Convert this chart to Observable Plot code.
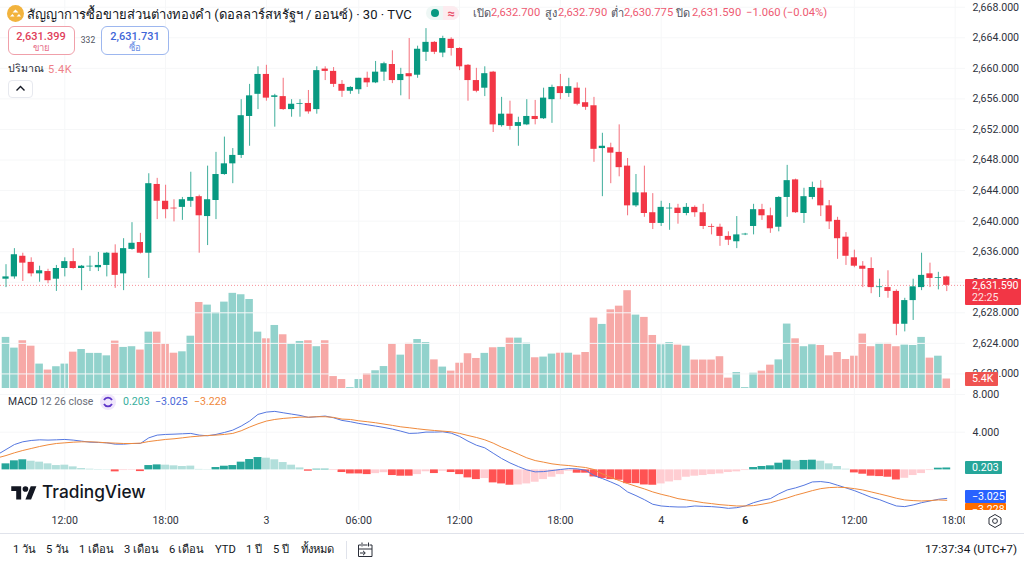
<!DOCTYPE html>
<html>
<head>
<meta charset="utf-8">
<script src="https://cdn.jsdelivr.net/npm/d3@7"></script>
<script src="https://cdn.jsdelivr.net/npm/@observablehq/plot@0.6"></script>
<style>
html,body{margin:0;padding:0;background:#fff}
#page{position:relative;width:1024px;height:565px;overflow:hidden;font-family:Roboto,"Noto Sans",sans-serif;color:#131722}
#page svg{position:absolute;left:0;top:0}
.t{position:absolute;white-space:nowrap;line-height:1;transform:translateY(-50%)}
.c{transform:translate(-50%,-50%)}
.box{position:absolute;box-sizing:border-box}
.layer{position:absolute;left:0}
</style>
</head>
<body>
<div id="page"></div>
<script>
const open = [2632.4,2632.7,2635.4,2634.6,2633.1,2633.4,2632.4,2633.8,2634.7,2633.8,
2634.0,2633.9,2634.2,2635.8,2633.1,2636.3,2637.2,2635.8,2644.8,2642.6,
2641.7,2641.8,2642.6,2643.2,2640.6,2642.7,2646.1,2647.5,2648.6,2653.7,
2656.6,2659.2,2656.2,2656.3,2654.6,2655.3,2655.4,2654.6,2659.9,2659.6,
2657.9,2657.0,2657.2,2658.7,2658.1,2659.5,2660.5,2658.4,2659.3,2659.1,
2662.1,2663.4,2662.0,2663.8,2662.6,2660.4,2658.4,2657.4,2659.5,2652.5,
2654.0,2652.4,2652.6,2653.7,2653.4,2655.9,2657.6,2656.7,2657.4,2655.5,
2655.1,2649.5,2649.6,2649.0,2647.2,2642.0,2643.7,2641.1,2639.7,2641.6,
2641.7,2641.0,2641.8,2641.1,2639.3,2639.2,2638.0,2637.3,2638.2,2639.3,
2641.5,2640.7,2639.2,2643.1,2645.4,2641.0,2643.1,2644.3,2642.0,2640.1,
2637.9,2635.2,2634.1,2633.8,2631.3,2631.3,2630.8,2626.5,2629.6,2631.3,
2633.1,2632.5,2632.7];
const high = [2634.3,2636.4,2635.8,2635.2,2634.1,2633.7,2634.2,2635.2,2636.4,2634.2,
2635.4,2635.9,2635.9,2636.9,2637.7,2639.8,2638.4,2646.2,2645.6,2644.7,
2642.8,2643.1,2646.4,2643.4,2647.2,2649.0,2651.0,2649.5,2655.9,2657.9,
2660.2,2660.4,2656.6,2658.7,2655.9,2655.9,2657.1,2660.2,2660.2,2660.1,
2658.4,2657.6,2658.7,2659.5,2660.9,2660.8,2662.3,2660.0,2663.9,2662.9,
2665.2,2663.5,2664.2,2664.0,2662.7,2660.5,2660.0,2660.2,2659.6,2656.2,
2655.7,2653.6,2655.9,2655.8,2657.4,2657.8,2659.2,2658.7,2658.1,2657.4,
2656.2,2651.5,2650.2,2652.6,2648.2,2646.1,2647.2,2643.6,2642.6,2642.3,
2642.2,2642.3,2642.0,2642.2,2639.6,2639.6,2638.6,2640.6,2638.4,2642.2,
2642.2,2641.7,2643.2,2647.3,2645.5,2644.3,2645.1,2645.3,2642.7,2640.5,
2638.5,2636.2,2634.7,2635.2,2632.4,2633.5,2631.0,2629.9,2632.4,2635.8,
2634.5,2633.3,2632.79];
const low = [2631.3,2632.4,2632.1,2632.7,2632.0,2631.8,2630.8,2632.7,2633.7,2630.9,
2633.4,2633.4,2632.7,2631.2,2630.9,2636.2,2635.7,2632.5,2640.2,2640.3,
2639.9,2640.1,2641.8,2635.8,2636.8,2640.2,2646.0,2644.9,2648.2,2649.8,
2654.6,2655.7,2652.3,2654.5,2653.6,2653.6,2654.0,2654.0,2658.4,2657.5,
2656.2,2656.6,2656.6,2657.5,2658.0,2658.3,2658.0,2656.4,2655.9,2658.7,
2660.9,2661.8,2661.4,2661.6,2659.7,2655.7,2656.8,2656.3,2651.6,2652.3,
2651.9,2649.8,2652.5,2652.6,2653.3,2652.8,2655.9,2656.2,2655.1,2654.5,
2647.7,2643.2,2644.9,2645.8,2640.7,2641.8,2640.5,2638.9,2639.3,2638.8,
2639.6,2640.7,2640.5,2638.9,2638.2,2636.7,2636.8,2636.4,2638.1,2638.2,
2640.1,2638.4,2638.6,2640.5,2641.0,2639.7,2642.8,2640.6,2638.9,2635.0,
2634.2,2633.9,2631.3,2630.5,2630.0,2629.9,2625.0,2625.5,2627.0,2630.9,
2631.3,2631.0,2630.775];
const close = [2632.7,2635.6,2634.5,2633.1,2633.5,2632.2,2633.8,2634.7,2633.8,2634.1,
2634.1,2634.2,2635.8,2632.9,2636.4,2637.1,2635.8,2644.9,2642.6,2641.5,
2641.6,2642.8,2643.1,2640.7,2642.8,2646.1,2647.5,2648.6,2653.8,2656.4,
2659.2,2656.1,2656.4,2654.6,2655.3,2655.4,2654.3,2659.7,2659.6,2657.9,
2657.0,2657.5,2658.7,2658.1,2659.5,2660.6,2658.4,2659.2,2658.9,2662.5,
2663.4,2662.1,2663.9,2662.6,2660.2,2658.4,2657.0,2659.3,2652.6,2654.0,
2652.4,2652.9,2653.7,2653.3,2656.1,2657.5,2656.7,2657.6,2655.3,2654.9,
2649.4,2649.8,2648.9,2647.0,2642.0,2643.7,2641.0,2639.7,2641.8,2641.7,
2641.0,2641.8,2641.1,2639.3,2639.2,2638.0,2637.5,2638.2,2638.3,2641.5,
2640.7,2639.0,2643.1,2645.3,2641.1,2643.2,2644.4,2642.0,2639.9,2637.7,
2635.4,2634.1,2633.7,2631.3,2631.4,2630.8,2626.5,2629.6,2631.4,2632.9,
2632.5,2632.6,2631.59];
// volume, thousands
const volume = [29.1,23.0,27.2,24.1,13.9,10.5,12.4,13.9,20.7,22.2,
20.0,20.0,18.6,27.0,23.4,23.8,21.9,32.1,32.1,25.3,
20.1,20.9,29.8,49.0,47.5,43.3,49.2,54.2,53.4,50.7,
32.1,28.3,35.9,30.6,25.3,26.8,27.2,23.8,27.2,6.8,
5.1,0.5,5.1,8.4,10.1,12.5,25.3,19.0,25.7,27.9,
26.2,16.3,12.2,9.9,14.4,19.8,17.1,20.0,23.2,23.4,
28.7,28.7,25.8,17.5,17.9,19.6,20.1,20.1,19.0,20.5,
40.1,36.5,44.8,46.9,55.7,41.8,40.5,30.2,24.9,26.2,
24.7,24.1,16.2,16.2,16.2,18.1,5.9,9.1,0.5,8.7,
9.9,13.3,16.3,36.7,28.3,23.8,24.9,24.5,18.6,20.5,
16.5,18.4,31.0,23.8,25.7,25.7,23.8,24.7,24.5,29.1,
17.3,18.4,5.4];
const macdHist = [.64,.96,1.07,.92,.82,.64,.46,.50,.32,.14,
.07,.04,.03,-.21,-.07,-.05,-.18,.46,.53,.50,
.43,.36,.40,.05,.03,.25,.39,.46,.82,1.10,
1.31,1.24,1.07,.78,.50,.21,-.14,.07,.07,-.07,
-.28,-.43,-.43,-.50,-.40,-.30,-.60,-.67,-.67,-.50,
-.20,-.39,-.14,-.28,-.50,-.85,-1.03,-.92,-1.38,-1.49,
-1.63,-1.60,-1.49,-1.31,-1.03,-.78,-.50,-.14,-.35,-.35,
-.75,-.92,-1.03,-1.10,-1.46,-1.46,-1.60,-1.63,-1.49,-1.28,
-1.14,-.78,-.67,-.60,-.50,-.43,-.28,-.21,-.07,.25,
.36,.43,.71,1.03,.92,1.00,1.03,.92,.64,.36,
.07,-.32,-.46,-.67,-.71,-.78,-1.07,-.89,-.60,-.39,
-.07,.18,.203];
// histogram shade per bar: G rising green, g fading green, R falling red, r fading red
const histShade = "GGGggggggggggRrrRGGggggggGGGGGGgggggRGGrRRRRrrRRRrrRrRRRRrRRRrrrrrrrRRRRRRRRRRrrrrrrrrrrrGGGGGgGGggggRRRRRRrrrrGG".split("");
// starts one bar before the first candle
const macdLine = [1.63,2.16,2.69,2.98,3.12,3.19,3.16,3.19,3.23,3.16,3.05,2.94,2.91,2.87,2.73,2.73,2.80,2.80,3.40,3.69,3.76,3.79,3.83,3.87,3.69,3.62,3.76,3.97,4.22,4.65,5.18,5.89,6.13,6.21,6.06,5.92,5.78,5.57,5.64,5.71,5.53,5.25,
5.11,4.93,4.79,4.65,4.50,4.33,4.11,3.87,3.90,4.01,4.01,4.04,3.90,3.55,3.05,2.62,2.34,1.77,1.21,.74,.35,0,-.21,-.18,-.07,.04,.14,.11,-.04,-.60,-.92,-1.28,-1.67,-2.34,-2.73,-3.16,-3.65,-3.83,-3.90,-3.94,
-3.94,-3.83,-3.87,-3.90,-3.97,-4.08,-4.01,-3.83,-3.48,-3.23,-3.05,-2.55,-2.13,-1.91,-1.63,-1.28,-1.24,-1.35,-1.63,-1.91,-2.20,-2.55,-2.91,-3.16,-3.51,-3.83,-3.90,-3.72,-3.48,-3.30,-3.12,-3.025];
const signalLine = [1.28,1.52,1.81,2.06,2.27,2.48,2.66,2.80,2.87,2.94,2.98,2.98,2.94,2.87,2.84,2.80,2.80,2.84,3.01,3.12,3.23,3.30,3.40,3.51,3.58,3.65,3.69,3.76,3.87,4.15,4.54,4.89,5.18,5.35,5.46,5.53,5.60,5.60,5.64,5.64,5.57,5.39,
5.35,5.21,5.11,5.00,4.86,4.72,4.57,4.47,4.36,4.26,4.18,4.11,4.04,3.87,3.65,3.44,3.19,2.84,2.41,2.06,1.67,1.28,.99,.82,.64,.53,.46,.35,.25,.04,-.43,-.78,-1.13,-1.45,-1.74,-2.02,-2.34,-2.59,-2.80,-3.05,
-3.19,-3.33,-3.48,-3.58,-3.69,-3.76,-3.83,-3.83,-3.79,-3.65,-3.48,-3.23,-2.98,-2.69,-2.45,-2.20,-1.99,-1.88,-1.84,-1.88,-1.99,-2.13,-2.34,-2.55,-2.77,-3.01,-3.19,-3.26,-3.30,-3.26,-3.19,-3.228];

const priceTicks = [2620,2624,2628,2632,2636,2640,2644,2648,2652,2656,2660,2664,2668];
const macdTicks = [4,8];
const timeBars = [7,19,31,42,54,66,78,101,113];
const timeLabels = ["12:00","18:00","3","06:00","12:00","18:00","4","12:00","18:00"];
const boldBars = [88];
const boldLabels = ["6"];
const lastPrice = 2631.59;

const GREEN="#089981", RED="#f23645";
const bars = open.map((o,i)=>({i,o,h:high[i],l:low[i],c:close[i],v:volume[i],up:close[i]>=o}));
const W=1024, PR=59, AF=10.6;
const xDomain=[-0.655,114.23];
const base={width:W,marginLeft:0,marginRight:PR,marginTop:0,
  x:{domain:xDomain,axis:null},style:{background:"transparent",overflow:"visible",fontFamily:"Roboto,'Noto Sans',sans-serif"}};
const num3=d3.format(",.3f");

// volume pane
const volPlot=Plot.plot({...base,height:390,marginBottom:2,y:{domain:[0,221],axis:null},marks:[
  Plot.rect(bars,{x1:d=>d.i-.45,x2:d=>d.i+.45,y1:0,y2:"v",fill:d=>d.up?"#92d2cc":"#f7a9a7"})
]});
// price pane
const pricePlot=Plot.plot({...base,height:390,marginBottom:0,y:{domain:[2617.83,2668.88],axis:null},clip:false,marks:[
  Plot.ruleY(priceTicks,{stroke:"#f6f7f8"}),
  Plot.ruleX(timeBars,{stroke:"#f6f7f8"}),
  Plot.ruleY([lastPrice],{stroke:RED,strokeOpacity:.55,strokeDasharray:"1,2"}),
  Plot.ruleX(bars,{x:"i",y1:"l",y2:"h",stroke:d=>d.up?"#3fae9b":"#f4707c",strokeWidth:1}),
  Plot.rect(bars,{x1:d=>d.i-.37,x2:d=>d.i+.37,y1:"o",y2:"c",fill:d=>d.up?GREEN:RED}),
  Plot.axisY(priceTicks,{anchor:"right",label:null,tickSize:0,tickPadding:7,textAnchor:"start",tickFormat:num3,fontSize:AF,fill:"#2f3340"})
]});
// MACD pane with time axis
const histFill={G:"#26a69a",g:"#b2dfdb",R:"#ff5252",r:"#ffcdd2"};
const macdPlot=Plot.plot({...base,height:146,marginBottom:25,y:{domain:[-4.31,8.53],axis:null},marks:[
  Plot.ruleY([4,8],{stroke:"#f6f7f8"}),
  Plot.ruleX(timeBars,{stroke:"#f6f7f8"}),
  Plot.rect(macdHist,{x1:(d,i)=>i-.47,x2:(d,i)=>i+.47,y1:0,y2:d=>d,fill:(d,i)=>histFill[histShade[i]]}),
  Plot.line(macdLine,{x:(d,i)=>i-1,y:d=>d,stroke:"#5577e0",strokeWidth:1}),
  Plot.line(signalLine,{x:(d,i)=>i-1,y:d=>d,stroke:"#f08a3c",strokeWidth:1}),
  Plot.axisY(macdTicks,{anchor:"right",label:null,tickSize:0,tickPadding:7,textAnchor:"start",tickFormat:num3,fontSize:AF,fill:"#2f3340"}),
  Plot.axisX(timeBars,{anchor:"bottom",label:null,tickSize:0,tickPadding:6,tickFormat:(d,i)=>timeLabels[i],fontSize:AF,fill:"#2f3340"}),
  Plot.axisX(boldBars,{anchor:"bottom",label:null,tickSize:0,tickPadding:6,tickFormat:(d,i)=>boldLabels[i],fontSize:AF,fontWeight:700,fill:"#131722"})
]});

const page=document.getElementById("page");
page.append(volPlot,pricePlot);
const macdWrap=document.createElement("div");
macdWrap.className="layer";
macdWrap.style.cssText="top:389px;width:1024px;height:146px";
macdWrap.append(macdPlot);
page.append(macdWrap);

function text(x,y,str,style="",center=false){
  const e=document.createElement("div");
  e.className="t"+(center?" c":"");
  e.style.cssText=`left:${x}px;top:${y}px;${style}`;
  e.textContent=str;page.append(e);return e;
}
function box(x,y,w,h,style){
  const e=document.createElement("div");
  e.className="box";e.style.cssText=`left:${x}px;top:${y}px;width:${w}px;height:${h}px;${style}`;
  page.append(e);return e;
}
function icon(x,y,w,h,vb,inner){
  const e=document.createElement("div");
  e.className="box";e.style.cssText=`left:${x}px;top:${y}px;width:${w}px;height:${h}px`;
  e.innerHTML=`<svg width="${w}" height="${h}" viewBox="${vb}">${inner}</svg>`;
  page.append(e);
}
const PINK="#ee5a72";
// header
icon(7,5,17,17,"0 0 17 17",`<circle cx="8.5" cy="8.5" r="8.5" fill="#f2b33d"/><path d="M5.5 7.5h6L8.5 4.5zM3 11.5h4.5l-2-2.5zM9.5 11.5H14l-2-2.5z" fill="#fff"/>`);
text(27,14,"สัญญาการซื้อขายส่วนต่างทองคำ (ดอลลาร์สหรัฐฯ / ออนซ์) · 30 · TVC","font-size:13px;color:#131722");
box(426,6,33,14,"background:#eef7f5;border-radius:7px");
box(443,6,16,14,"background:#fdebef;border-radius:0 7px 7px 0");
box(431,9,8,8,"background:#089981;border-radius:50%");
text(451,13,"≈","font-size:13px;color:#e8506a;font-weight:700",true);
const hdrV="font-size:11.2px;color:"+PINK;const hdrL="font-size:11px;color:#50535e";
text(473,13,"เปิด",hdrL);text(491,13,"2,632.700",hdrV);
text(545,13,"สูง",hdrL);text(558,13,"2,632.790",hdrV);
text(611,13,"ต่ำ",hdrL);text(624,13,"2,630.775",hdrV);
text(676,13,"ปิด",hdrL);text(692,13,"2,631.590",hdrV);
text(746,13,"−1.060",hdrV);text(783,13,"(−0.04%)",hdrV);
// buy/sell
box(8,26,67,29,"border:1px solid #f0a0aa;border-radius:6px;background:#fff");
text(41,36,"2,631.399","font-size:11px;font-weight:500;color:#e0405a",true);
text(41,48,"ขาย","font-size:9.5px;color:#e7708a",true);
text(88,40,"332","font-size:8.5px;color:#50535e",true);
box(101,26,68,29,"border:1px solid #9db7ef;border-radius:6px;background:#fff");
text(135,36,"2,631.731","font-size:11px;font-weight:500;color:#3f66d8",true);
text(135,48,"ซื้อ","font-size:9.5px;color:#6b8fe5",true);
text(8,69,"ปริมาณ","font-size:10.6px;color:#2a2e39");
text(48,69,"5.4K","font-size:11px;letter-spacing:.5px;color:#ee7f88");
box(8,80,25,18,"border:1px solid #e7e9ef;border-radius:4px;background:#fff");
icon(15,85,11,7,"0 0 11 7",`<path d="M1.5 5.5 5.5 1.5 9.5 5.5" fill="none" stroke="#131722" stroke-width="1.4"/>`);
// current price / volume tags
box(965,279,56,26,"background:#f23645;border-radius:1px");
text(972,286,"2,631.590","font-size:10.6px;color:#fff");
text(972,298,"22:25","font-size:10.6px;color:#ffe3e3");
box(965,372,33,14,"background:#ef5350;border-radius:1px");
text(972,379,"5.4K","font-size:10.6px;color:#fff");
// MACD legend
text(8,402,"MACD","font-size:10.4px;color:#2a2e39");
text(40,402,"12 26 close","font-size:10.4px;color:#6a6d78");
box(100,394,16,16,"background:#efe6fb;border-radius:50%");
icon(102,396,12,12,"0 0 12 12",`<path d="M10 4A4.6 4.6 0 0 0 2 4M2 8a4.6 4.6 0 0 0 8 0" fill="none" stroke="#5e35c9" stroke-width="1.8"/>`);
text(123,402,"0.203","font-size:10.6px;color:#37ae9d");
text(155,402,"−3.025","font-size:10.6px;color:#4a68d8");
text(194,402,"−3.228","font-size:10.6px;color:#f0883c");
// MACD tags, clipped at pane bottom
const clip=box(965,440,59,70,"overflow:hidden");
function tag(y,w,h,bg,str){
  const b=document.createElement("div");
  b.style.cssText=`position:absolute;left:0;top:${y-440}px;width:${w}px;height:${h}px;background:${bg};color:#fff;font-size:10.6px;line-height:${h}px;padding-left:7px;box-sizing:border-box;border-radius:1px`;
  b.textContent=str;clip.append(b);
}
tag(461,37,13,"#26a69a","0.203");
tag(490,41,13,"#2962ff","−3.025");
tag(503,41,13,"#ff6d00","−3.228");
// time-axis right end
box(965,511,59,22,"background:#fff");
icon(987,513,16,16,"0 0 16 16",`<path d="M8 1.5 14 5v6l-6 3.5L2 11V5z" fill="none" stroke="#2a2e39" stroke-width="1"/><circle cx="8" cy="8" r="2.4" fill="none" stroke="#2a2e39" stroke-width="1"/>`);
// watermark
icon(11,484,26,17,"0 0 36 24",`<g fill="#131722"><path d="M14 22H7V10H0V3h14zM28 22h-8l7.5-19h8z"/><circle cx="20" cy="7" r="4"/></g>`);
text(42,492,"TradingView","font-size:17.3px;font-weight:500;color:#131722;font-family:Inter,Roboto,sans-serif");
// bottom toolbar
box(0,533,1024,1,"background:#e0e3eb");
const rng="font-size:11.2px;color:#131722";
[[13,"1 วัน"],[46,"5 วัน"],[79,"1 เดือน"],[124,"3 เดือน"],[169,"6 เดือน"],[215,"YTD"],[246,"1 ปี"],[273,"5 ปี"],[301,"ทั้งหมด"]].forEach(([x,s])=>text(x,550,s,rng));
box(346,541,1,18,"background:#e0e3eb");
icon(357,541,17,17,"0 0 17 17",`<path d="M4 4H1.5v11.5H15V4h-2.5M6 4h4.5M5 1.5v4M11.5 1.5v4M1.5 8H15M3 12h5M6 9.8 8.3 12 6 14.2" fill="none" stroke="#2a2e39" stroke-width="1"/>`);
const clock=text(1017,550,"17:37:34 (UTC+7)","font-size:11.8px;color:#131722");
clock.style.transform="translate(-100%,-50%)";
</script>
</body>
</html>
